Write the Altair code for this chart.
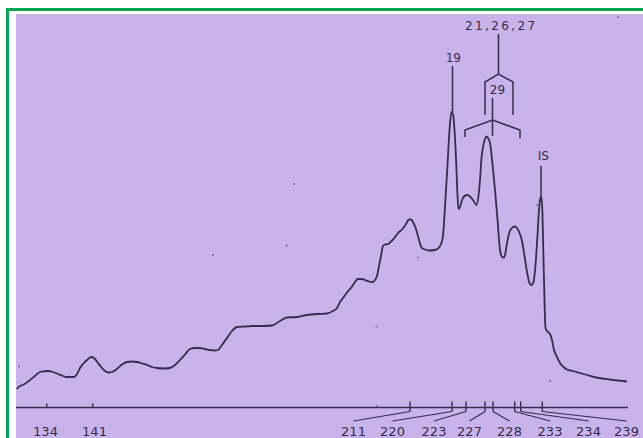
import altair as alt
import pandas as pd

# ---- chromatogram trace: position along chart (units) and detector signal above baseline
trace_pos = [0.7, 4, 7, 14, 19, 24, 32, 37, 42, 47, 51, 58, 61, 64, 68, 71, 74, 76, 79, 82,
             86, 89, 93, 96, 99, 102, 106, 111, 116, 121, 126, 131, 136, 141, 147, 154, 159, 164, 169, 174,
             179, 184, 189, 194, 198, 202, 206, 211, 216, 221, 229, 237, 246, 256, 264, 271, 281, 291, 301, 311,
             317, 321, 324, 327, 331, 336, 339, 342, 346, 349, 353, 357, 359, 361, 363, 365, 367, 369, 372, 375,
             378, 382, 386, 390, 393, 395, 397.5, 400, 402.5, 405.5, 409, 414, 419, 422.5, 425, 427, 428.5, 430, 431.5, 433.5,
             435.5, 437, 438.5, 440, 441.5, 442.5, 444, 446, 448.5, 451, 454, 457, 460.5, 462.5, 464, 465.5, 467, 469, 470.5, 472,
             474, 476.7, 479, 481.3, 484, 486, 487.5, 489, 491, 493.5, 496, 498.5, 501, 503.5, 506, 508.5, 511, 513.5, 515.5, 517.5,
             519.5, 521.5, 523, 524.5, 525.5, 526.5, 527.5, 528.5, 529.5, 531, 534, 536, 538, 541, 544, 547.5, 551, 557, 564, 571,
             578, 586, 594, 602, 611]
trace_signal = [18.5, 21.5, 22.5, 27.5, 31.5, 35.5, 36.5, 35.5, 33.5, 31.5, 30.5, 30.5, 33.5, 39.5, 44.5, 47.5, 50, 50.5, 48.5, 44.5,
                39.5, 36.5, 35, 35.5, 37, 39.5, 43, 45.5, 46, 45.5, 44, 42.5, 40.5, 39.5, 39, 39.5, 42.5, 47.5, 53, 58.5,
                59.5, 59.5, 58.5, 57.5, 57, 57.5, 62.5, 69.5, 76.5, 80.5, 81, 81.5, 81.5, 82, 86.5, 90, 90.5, 92.5, 93.5, 94,
                96.5, 99.5, 105.5, 109.5, 115, 121, 125.5, 128.5, 128.5, 127.5, 126, 125.5, 127.5, 131.5, 141.5, 151.5, 161.5, 163, 163.5, 166,
                169, 174.5, 178, 183.5, 188, 188, 184.5, 178.5, 169.5, 160, 158, 157, 157.5, 159.5, 163.5, 171.5, 192.5, 217.5, 242.5, 277.5,
                295.5, 293.5, 277.5, 249.5, 212.5, 198.5, 200.5, 207.5, 211.5, 212.5, 211, 207.5, 202.5, 211.5, 227.5, 249.5, 260.5, 268.5, 271, 269.5,
                264.5, 241.5, 217.5, 190.5, 157.5, 150.5, 150, 152.5, 164.5, 175.5, 179.5, 181, 179.5, 174.5, 166.5, 151.5, 135.5, 124.5, 122.5, 125.5,
                142.5, 172.5, 197.5, 209.5, 210.5, 192.5, 147.5, 107.5, 79.5, 76.5, 73.5, 67.5, 57.5, 50.5, 44.5, 40.5, 38, 36.5, 34.5, 32.5,
                30.5, 29, 28, 27, 26]

# ---- baseline scale: tick positions, label positions, label texts
tick_labels = ["134", "141", "211", "220", "223", "227", "228", "233", "234", "239"]
tick_pos = [30.7, 76.7, 394, 436, 450, 469, 477, 498.7, 504.7, 526.3]
label_pos = [29.5, 78.5, 337.5, 376.5, 418, 453.5, 493.5, 534, 572.5, 610.5]
has_leader = [False, False, True, True, True, True, True, True, True, True]

# ---- peak annotations
peak_labels = ["19", "IS", "2\u20091\u2009,\u20092\u20096\u2009,\u20092\u20097", "29"]
peak_label_pos = [437.3, 527.3, 484, 481.5]
peak_label_signal = [350, 251.5, 381.5, 317.5]

# annotation strokes (marker lines and brackets)
ann_group = ["m19", "m19", "mIS", "mIS", "m21", "m21",
             "ub", "ub", "ub", "ub", "ub",
             "m29", "m29",
             "lb", "lb", "lb", "lb", "lb"]
ann_pos = [436.5, 436.5, 525, 525, 482.5, 482.5,
           469, 469, 482.5, 497, 497,
           476.5, 476.5,
           449, 449, 476.5, 504, 504]
ann_signal = [341.5, 295.5, 241.5, 210.5, 373.5, 333.5,
              292.5, 325.5, 333.5, 325.5, 292.5,
              309.5, 271.5,
              270.5, 277.5, 287.5, 277.5, 269.5]

# specks on the scanned paper
speck_pos = [3, 197, 270.7, 278, 402.3, 360.7, 534, 602, 361, 521.3]
speck_signal = [41, 152.5, 162, 223.5, 150, 81, 26.5, 390.5, 1.5, 202.5]

INK = "#362d4c"
PURPLE = "#c8b3ea"
GREEN = "#00a651"

xs = alt.Scale(domain=[-16, 627], nice=False, zero=False)
ys = alt.Scale(domain=[-30.5, 407.5], nice=False, zero=False)


def X(f):
    return alt.X(f, type="quantitative", scale=xs, axis=None)


def Y(f):
    return alt.Y(f, type="quantitative", scale=ys, axis=None)


one = pd.DataFrame({"k": [0]})

purple = alt.Chart(one).mark_rect(color=PURPLE).encode(
    x=alt.value(16), x2=alt.value(643), y=alt.value(14), y2=alt.value(438))
green_v = alt.Chart(one).mark_rect(color=GREEN).encode(
    x=alt.value(6), x2=alt.value(9), y=alt.value(8), y2=alt.value(438))
green_h = alt.Chart(one).mark_rect(color=GREEN).encode(
    x=alt.value(6), x2=alt.value(643), y=alt.value(8), y2=alt.value(11))

trace_df = pd.DataFrame({"pos": trace_pos, "signal": trace_signal, "i": range(len(trace_pos))})
trace = alt.Chart(trace_df).mark_line(color=INK, strokeWidth=1.8, interpolate="monotone").encode(
    x=X("pos"), y=Y("signal"), order="i:Q")

base_df = pd.DataFrame({"pos": [0, 612], "signal": [0, 0]})
baseline = alt.Chart(base_df).mark_line(color=INK, strokeWidth=1.5).encode(x=X("pos"), y=Y("signal"))

ticks_df = pd.DataFrame({
    "pos": tick_pos,
    "lab": label_pos,
    "text": tick_labels,
    "top": [4 if not h else 6 for h in has_leader],
    "bot": [0 if not h else -4 for h in has_leader],
    "leader": has_leader,
    "lend": [-13.5] * len(tick_pos),
    "ty": [-28.5] * len(tick_pos),
})
ticks = alt.Chart(ticks_df).mark_rule(color=INK, strokeWidth=1.4).encode(
    x=X("pos"), y=Y("top"), y2="bot")
leaders = alt.Chart(ticks_df).transform_filter("datum.leader").mark_rule(color=INK, strokeWidth=1.2).encode(
    x=X("pos"), y=Y("bot"), x2="lab", y2="lend")
tick_text = alt.Chart(ticks_df).mark_text(
    color=INK, font="DejaVu Sans", fontSize=13, baseline="alphabetic", align="center").encode(
    x=X("lab"), y=Y("ty"), text="text")

ann_df = pd.DataFrame({"pos": ann_pos, "signal": ann_signal, "g": ann_group, "i": range(len(ann_pos))})
ann = alt.Chart(ann_df).mark_line(color=INK, strokeWidth=1.5).encode(
    x=X("pos"), y=Y("signal"), detail="g:N", order="i:Q")

plab_df = pd.DataFrame({"pos": peak_label_pos, "signal": peak_label_signal, "text": peak_labels})
plab = alt.Chart(plab_df).mark_text(
    color=INK, font="DejaVu Sans", fontSize=12, baseline="middle", align="center").encode(
    x=X("pos"), y=Y("signal"), text="text")

speck_df = pd.DataFrame({"pos": speck_pos, "signal": speck_signal})
specks = alt.Chart(speck_df).mark_point(filled=True, color="#6a5f80", size=5, opacity=0.8).encode(
    x=X("pos"), y=Y("signal"))

chart = alt.layer(
    purple, green_v, green_h, baseline, ticks, leaders, tick_text, trace, ann, plab, specks
).properties(
    width=643, height=438, padding=0, autosize=alt.AutoSizeParams(type="none"), background="white"
).configure_view(stroke=None)

chart.save("out.html", embed_options={"renderer": "svg", "actions": False})
